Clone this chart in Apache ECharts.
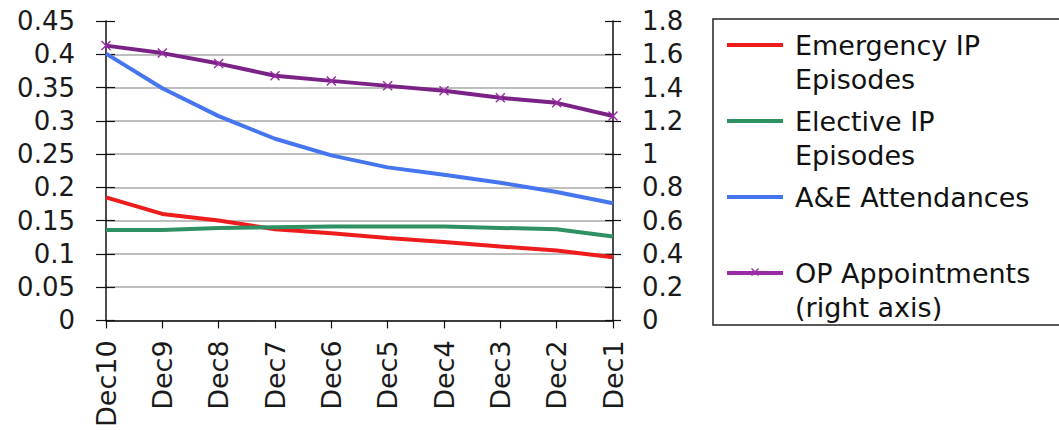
<!DOCTYPE html>
<html>
<head>
<meta charset="utf-8">
<script src="https://cdn.jsdelivr.net/npm/echarts@6/dist/echarts.min.js"></script>
<style>html,body{margin:0;padding:0;background:#fff}#c{width:1059px;height:430px}</style>
</head>
<body>
<div id="c"></div>
<script>
const categories = ['Dec10','Dec9','Dec8','Dec7','Dec6','Dec5','Dec4','Dec3','Dec2','Dec1'];
const emergencyIP = [0.185,0.160,0.150,0.137,0.131,0.124,0.118,0.111,0.105,0.095];
const electiveIP = [0.136,0.136,0.139,0.140,0.141,0.141,0.141,0.139,0.137,0.126];
const aeAttendances = [0.401,0.349,0.307,0.273,0.248,0.230,0.219,0.207,0.193,0.176];
const opAppointments = [1.652,1.607,1.544,1.471,1.440,1.410,1.381,1.338,1.308,1.229];
const seriesNames = ['Emergency IP\nEpisodes','Elective IP\nEpisodes','A&E Attendances\n ','OP Appointments\n(right axis)'];

const FONT = 'DejaVu Sans';
const LH = 34;
const crossPath = 'path://M0,1L1,0L5,4L9,0L10,1L6,5L10,9L9,10L5,6L1,10L0,9L4,5Z';
// legend icons: 56 x 68 box, bar aligned with first text line (tiny anchors keep the box size)
const anchors = 'M0,0L0.01,0L0.01,0.01Z M55.99,67.99L56,67.99L56,68Z';
const legendLineIcon = 'path://' + anchors + ' M0,15L56,15L56,19L0,19Z';
const legendOpIcon = 'path://' + anchors + ' M0,15L56,15L56,19L0,19Z M24,13L25,12L28,15L31,12L32,13L29,16L32,19L31,20L28,17L25,20L24,19L27,16Z';
const chart = echarts.init(document.getElementById('c'), null, {renderer:'svg'});
const yCommon = (min,max,interval) => ({type:'value', min, max, interval});
chart.setOption({
  animation:false,
  backgroundColor:'#fff',
  grid:{left:106, right:446, top:21, bottom:105},
  xAxis:{type:'category', data:categories, boundaryGap:false,
    axisLine:{lineStyle:{color:'#111', width:1.5}},
    axisTick:{show:true, inside:false, length:8, lineStyle:{color:'#111', width:1.2}},
    axisLabel:{rotate:90, margin:20, fontSize:27, fontFamily:FONT, color:'#1a1a1a'},
    splitLine:{show:false}},
  yAxis:[
    Object.assign(yCommon(0,0.45,0.05), {position:'left',
      axisLine:{show:true, lineStyle:{color:'#111', width:1.5}},
      axisTick:{show:true, inside:false, length:10, lineStyle:{color:'#111', width:1.2}},
      axisLabel:{margin:31, fontSize:26, fontFamily:FONT, color:'#1a1a1a', formatter:v=>String(+v.toFixed(2))},
      splitLine:{show:true, showMaxLine:false, lineStyle:{color:'#a8a8a8', width:1.5}}}),
    Object.assign(yCommon(0,1.8,0.2), {position:'right',
      axisLine:{show:true, lineStyle:{color:'#111', width:1.5}},
      axisTick:{show:true, inside:false, length:8, lineStyle:{color:'#111', width:1.2}},
      axisLabel:{margin:29, fontSize:26, fontFamily:FONT, color:'#1a1a1a', formatter:v=>String(+v.toFixed(1))},
      splitLine:{show:false}}),
    Object.assign(yCommon(0,0.45,0.05), {position:'left',
      axisLine:{show:false}, axisLabel:{show:false}, splitLine:{show:false},
      axisTick:{show:true, inside:true, length:9, lineStyle:{color:'#111', width:1.2}}}),
    Object.assign(yCommon(0,1.8,0.2), {position:'right',
      axisLine:{show:false}, axisLabel:{show:false}, splitLine:{show:false},
      axisTick:{show:true, inside:true, length:8, lineStyle:{color:'#111', width:1.2}}})
  ],
  legend:{orient:'vertical', left:727, top:45 - LH/2, itemGap:76 - 2*LH, itemWidth:56, itemHeight:2*LH,
    padding:0,
    data:[
      {name:seriesNames[0], icon:legendLineIcon},
      {name:seriesNames[1], icon:legendLineIcon},
      {name:seriesNames[2], icon:legendLineIcon},
      {name:seriesNames[3], icon:legendOpIcon}
    ],
    textStyle:{fontSize:27, fontFamily:FONT, color:'#111', lineHeight:LH, padding:[0,0,0,7]}},
  graphic:[{type:'rect', shape:{x:713, y:19, width:360, height:306},
    style:{fill:'none', stroke:'#222', lineWidth:1.5}, silent:true, z:-1}],
  series:[
    {name:seriesNames[0], type:'line', data:emergencyIP, yAxisIndex:0, symbol:'none',
      lineStyle:{color:'#ee1c1c', width:4}, itemStyle:{color:'#ee1c1c'}},
    {name:seriesNames[1], type:'line', data:electiveIP, yAxisIndex:0, symbol:'none',
      lineStyle:{color:'#2f9163', width:4}, itemStyle:{color:'#2f9163'}},
    {name:seriesNames[2], type:'line', data:aeAttendances, yAxisIndex:0, symbol:'none',
      lineStyle:{color:'#4575ef', width:4}, itemStyle:{color:'#4575ef'}},
    {name:seriesNames[3], type:'line', data:opAppointments, yAxisIndex:1, symbol:crossPath, symbolSize:10,
      showSymbol:true, lineStyle:{color:'#7b2287', width:4}, itemStyle:{color:'#9a2aa6'}}
  ]
});
</script>
</body>
</html>
